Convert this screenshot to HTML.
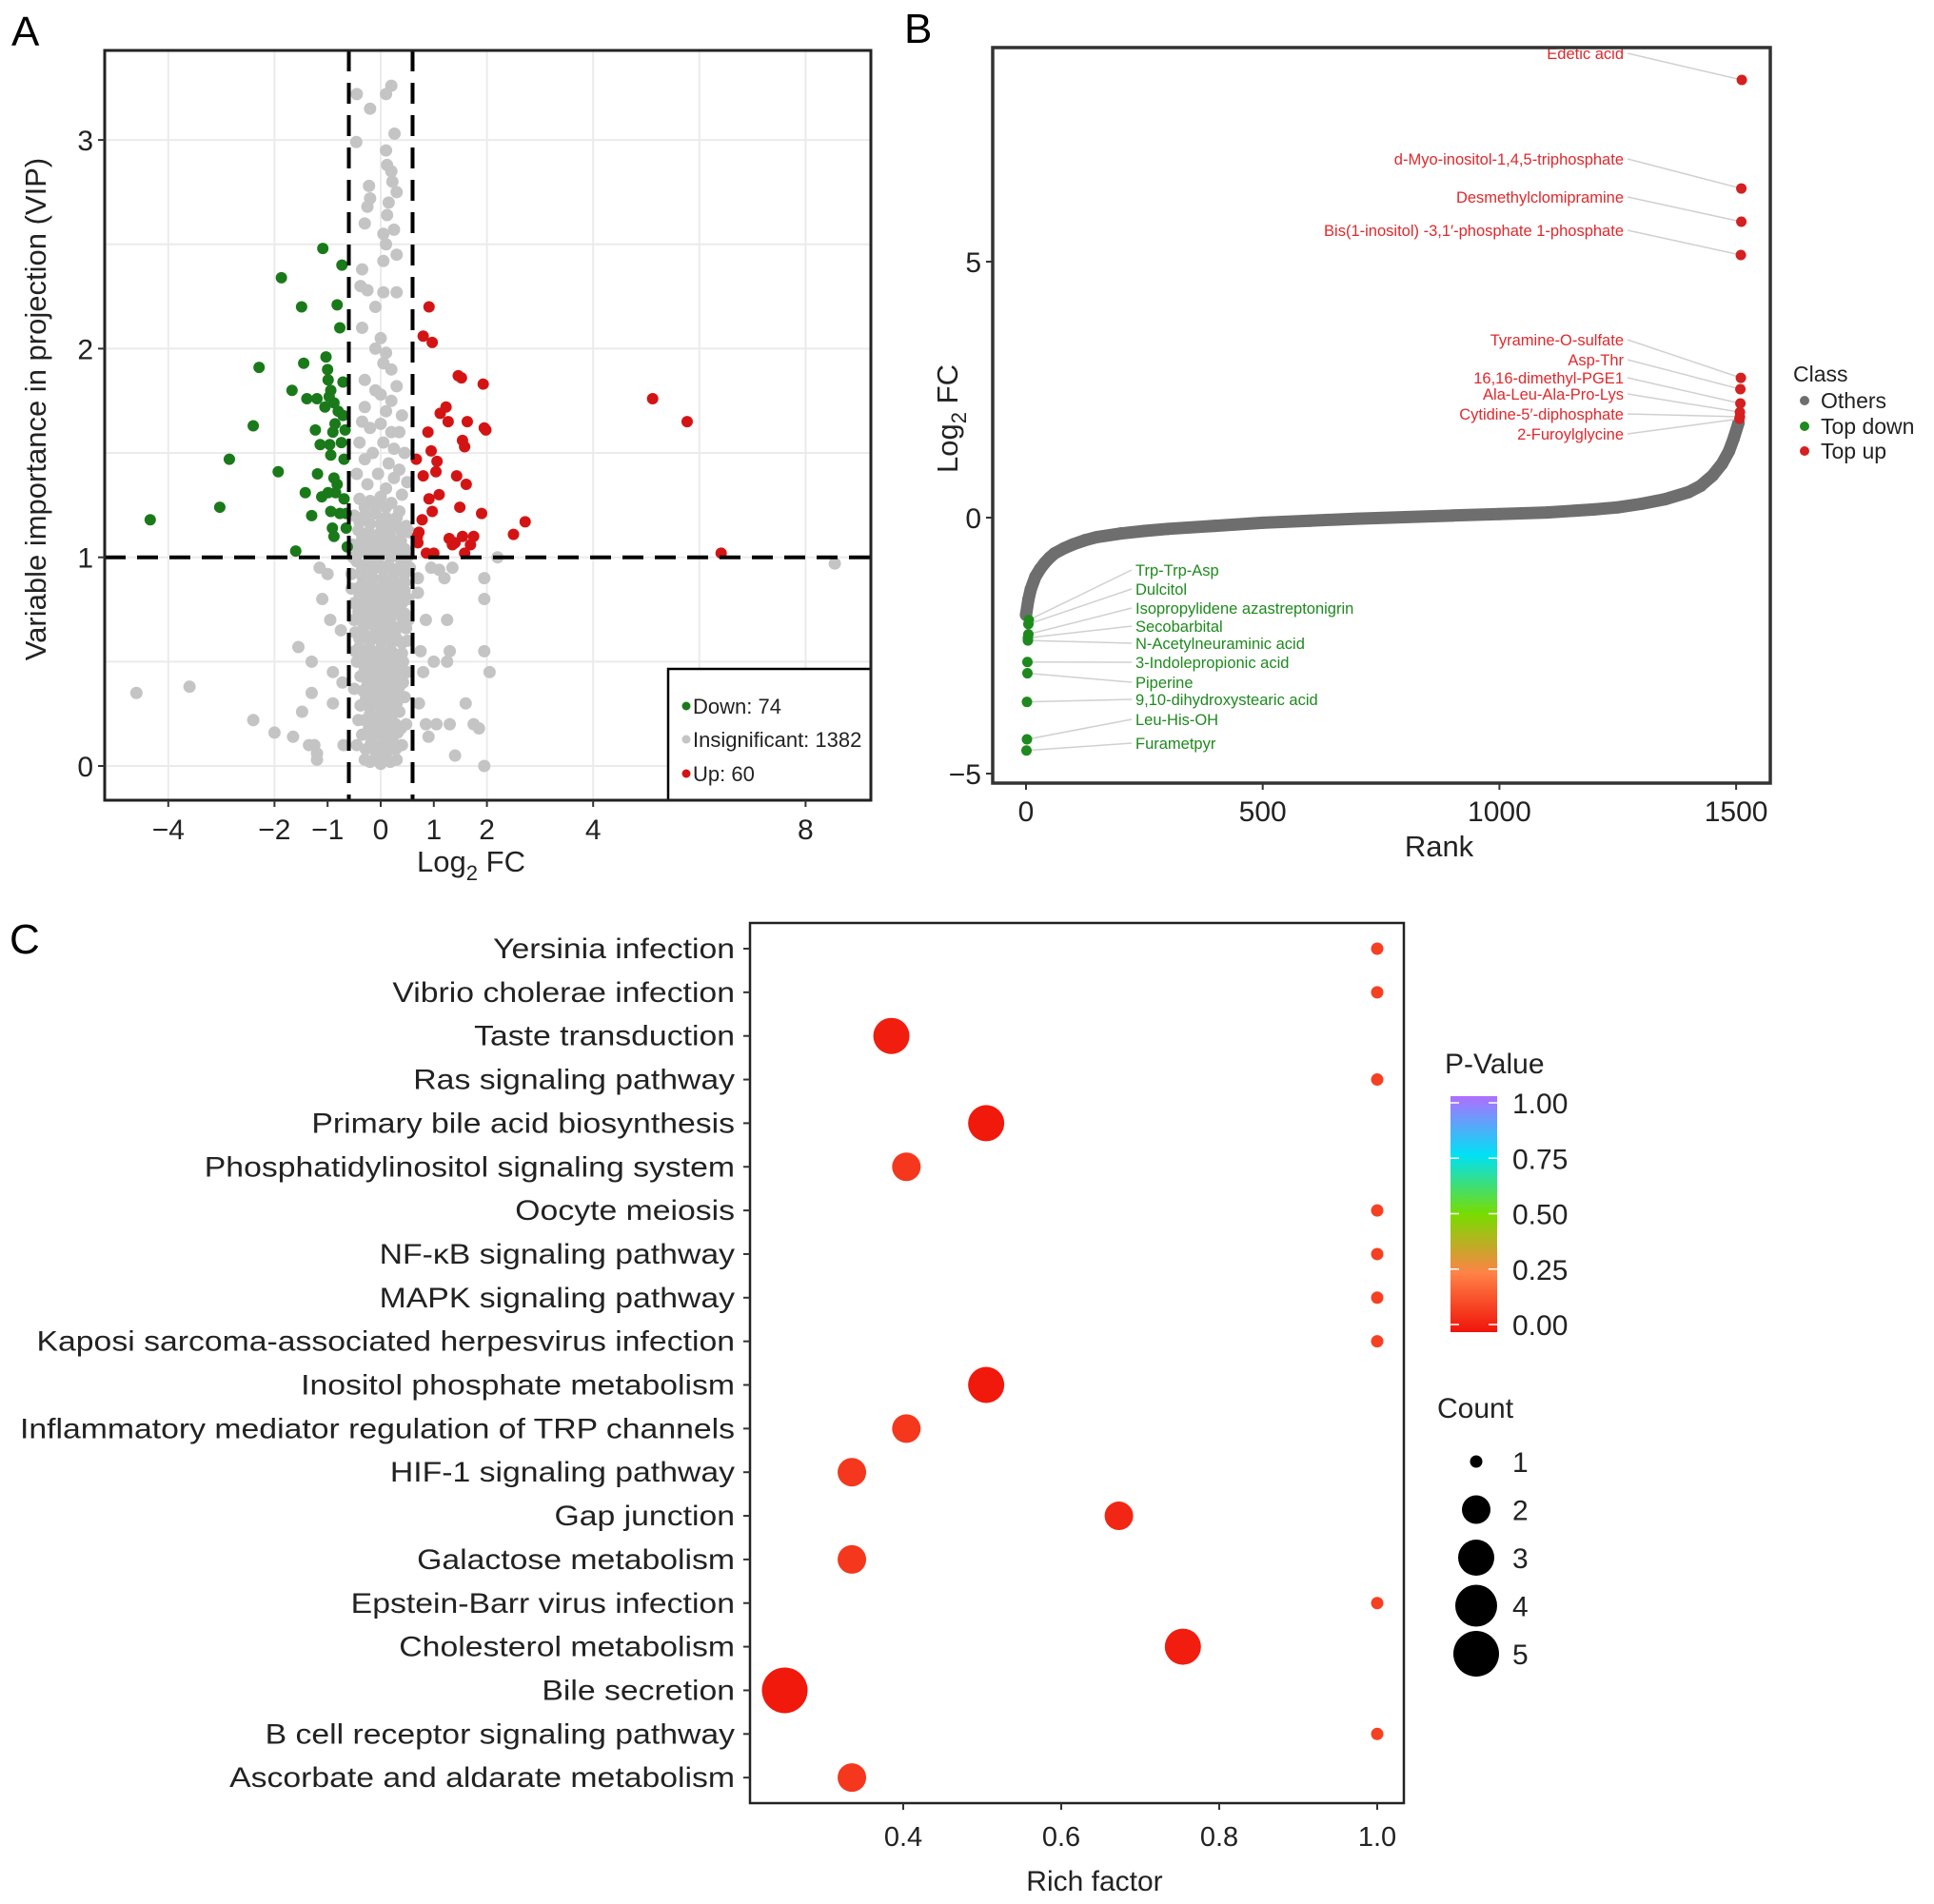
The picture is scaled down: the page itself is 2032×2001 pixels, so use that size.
<!DOCTYPE html>
<html><head><meta charset="utf-8">
<style>
html,body{margin:0;padding:0;background:#fff;}
svg{display:block;font-family:"Liberation Sans",Arial,sans-serif;}
</style></head>
<body>
<svg id="fig" width="2032" height="2001" viewBox="0 0 2032 2001" xmlns="http://www.w3.org/2000/svg">
  <rect width="2032" height="2001" fill="#fff"/>
  <text x="12" y="48" font-size="44">A</text>
  <text x="950" y="45" font-size="44">B</text>
  <text x="10" y="1002" font-size="44">C</text>
  <g id="pa"></g>
  <g id="pb"></g>
  <g id="pc"></g>
</svg>
<script>
// ---------- Panel A data ----------
const aXTicks = [-4,-2,-1,0,1,2,4,8];
const aYTicks = [0,1,2,3];
const aDownPoints = [[-4.34,1.18],[-3.03,1.24],[-2.85,1.47],[-2.4,1.63],[-2.29,1.91],[-1.93,1.41],[-1.87,2.34],[-1.67,1.8],[-1.6,1.03],[-1.49,2.2],[-1.45,1.93],[-1.39,1.76],[-1.42,1.31],[-1.3,1.2],[-1.23,1.61],[-1.2,1.76],[-1.19,1.4],[-1.14,1.54],[-1.09,2.48],[-1.03,1.96],[-1.0,1.9],[-0.99,1.85],[-0.96,1.54],[-0.99,1.31],[-0.94,1.22],[-0.91,1.14],[-0.94,1.8],[-0.88,1.74],[-0.86,1.64],[-0.9,1.6],[-0.88,1.38],[-0.85,1.31],[-0.88,1.1],[-0.82,2.21],[-0.77,2.1],[-0.73,2.4],[-0.71,1.84],[-0.71,1.68],[-0.67,1.61],[-0.69,1.47],[-0.69,1.28],[-0.65,1.21],[-0.65,1.14],[-0.63,1.05],[-0.77,1.21],[-0.82,1.35],[-1.11,1.29],[-0.94,1.49],[-1.05,1.72],[-0.97,1.77],[-0.8,1.7],[-0.74,1.55]];
const aUpPoints = [[0.69,1.1],[0.7,1.07],[0.8,2.06],[0.91,2.2],[0.97,2.03],[0.67,1.47],[0.8,1.39],[0.89,1.6],[0.91,1.28],[0.95,1.51],[0.97,1.22],[0.78,1.18],[0.86,1.02],[1.0,1.02],[1.04,1.41],[1.06,1.46],[1.12,1.69],[1.23,1.72],[1.27,1.65],[1.29,1.09],[1.35,1.06],[1.4,1.07],[1.43,1.39],[1.49,1.24],[1.46,1.87],[1.52,1.86],[1.54,1.56],[1.58,1.53],[1.54,1.1],[1.61,1.35],[1.63,1.65],[1.69,1.06],[1.58,1.02],[1.93,1.83],[1.9,1.21],[1.95,1.62],[1.98,1.61],[2.5,1.11],[2.72,1.17],[5.12,1.76],[5.77,1.65],[6.41,1.02],[1.75,1.1],[0.72,1.12],[1.1,1.3]];
const aGrayPoints = [[-0.45,3.22],[-0.2,3.15],[0.2,3.26],[0.1,3.22],[0.26,3.03],[-0.46,2.99],[0.1,2.95],[0.12,2.88],[0.2,2.85],[0.22,2.8],[0.3,2.75],[-0.22,2.78],[-0.2,2.72],[-0.25,2.68],[0.15,2.7],[0.12,2.64],[-0.3,2.6],[0.05,2.55],[0.25,2.57],[0.1,2.5],[0.3,2.45],[0.05,2.42],[-0.35,2.38],[-0.38,2.3],[-0.25,2.28],[0.05,2.27],[0.3,2.27],[-0.1,2.2],[-0.35,2.1],[0.0,2.05],[-0.1,2.0],[0.1,1.98],[0.05,1.93],[0.2,1.9],[-0.3,1.85],[0.3,1.82],[-0.1,1.8],[0.0,1.78],[0.2,1.75],[-0.3,1.72],[0.1,1.7],[0.4,1.68],[-0.35,1.65],[-0.2,1.62],[0.0,1.64],[0.2,1.6],[0.35,1.6],[-0.4,1.55],[0.05,1.55],[0.25,1.52],[-0.15,1.5],[0.45,1.5],[-0.3,1.47],[0.15,1.45],[0.35,1.42],[-0.45,1.4],[-0.05,1.4],[0.25,1.38],[0.5,1.36],[-0.25,1.35],[0.1,1.33],[0.4,1.3],
[-0.4,1.28],[-0.2,1.27],[0.0,1.29],[0.2,1.26],[0.35,1.22],[-0.5,1.2],[-0.3,1.2],[-0.1,1.21],[0.1,1.19],[0.28,1.16],[0.48,1.15],[-0.42,1.13],[-0.22,1.12],[0.0,1.12],[0.18,1.1],[0.38,1.08],[-0.52,1.06],[-0.32,1.05],[-0.12,1.05],[0.08,1.04],[0.28,1.02],[0.5,1.0],[-0.45,0.98],[-0.25,0.97],[-0.05,0.98],[0.15,0.96],[0.35,0.95],[-0.55,0.92],[-0.35,0.91],[-0.15,0.9],[0.05,0.9],[0.25,0.89],[0.45,0.88],[-0.45,0.85],[-0.25,0.84],[-0.05,0.84],[0.15,0.83],[0.35,0.82],[0.52,0.8],[-0.5,0.78],[-0.32,0.77],[-0.12,0.77],[0.08,0.76],[0.28,0.75],[0.45,0.73],[-0.42,0.71],[-0.22,0.7],[-0.02,0.7],[0.18,0.69],[0.38,0.67],[-0.48,0.64],[-0.3,0.63],[-0.1,0.63],[0.1,0.62],[0.3,0.61],[0.5,0.6],[-0.4,0.57],[-0.2,0.56],[0.0,0.56],[0.2,0.55],[0.4,0.54],[-0.45,0.5],[-0.27,0.49],[-0.07,0.49],[0.13,0.48],[0.33,0.47],[-0.38,0.43],[-0.18,0.42],[0.02,0.42],[0.22,0.41],[0.42,0.4],[-0.33,0.36],[-0.13,0.35],[0.07,0.35],[0.27,0.34],[-0.38,0.29],[-0.2,0.28],[0.0,0.28],[0.2,0.27],[0.35,0.26],[-0.3,0.22],[-0.1,0.21],[0.1,0.21],[0.28,0.2],[-0.35,0.15],[-0.15,0.14],[0.05,0.14],[0.22,0.13],[-0.28,0.08],[-0.08,0.07],[0.12,0.07],[0.28,0.08],[-0.2,0.02],[0.0,0.01],[0.18,0.02],[-0.3,0.45],[0.45,0.33],[-0.5,0.37],[0.48,0.2],[-0.45,0.1],[0.4,0.1],[-0.52,1.0],[0.55,1.12],
[-0.3,1.24],[-0.1,1.25],[0.1,1.24],[0.3,1.19],[-0.4,1.17],[-0.2,1.16],[0.0,1.16],[0.2,1.14],[0.4,1.12],[-0.35,1.09],[-0.15,1.08],[0.05,1.08],[0.25,1.06],[0.45,1.04],[-0.42,1.02],[-0.22,1.01],[-0.02,1.01],[0.18,1.0],[0.38,0.99],[-0.35,0.94],[-0.15,0.94],[0.05,0.94],[0.25,0.93],[0.45,0.92],[-0.35,0.87],[-0.15,0.87],[0.05,0.86],[0.25,0.86],[0.45,0.84],[-0.4,0.81],[-0.2,0.8],[0.0,0.8],[0.2,0.79],[0.4,0.78],[-0.42,0.74],[-0.22,0.74],[-0.02,0.73],[0.18,0.73],[0.38,0.72],[-0.32,0.67],[-0.12,0.67],[0.08,0.66],[0.28,0.65],[0.48,0.66],[-0.4,0.61],[-0.2,0.6],[0.0,0.6],[0.2,0.59],[0.4,0.59],[-0.35,0.53],[-0.15,0.53],[0.05,0.52],[0.25,0.51],[0.42,0.5],[-0.3,0.47],[-0.1,0.46],[0.1,0.45],[0.3,0.44],[-0.25,0.39],[-0.05,0.39],[0.15,0.38],[0.35,0.38],[-0.28,0.32],[-0.08,0.32],[0.12,0.31],[0.3,0.3],[-0.2,0.25],[0.0,0.24],[0.2,0.24],[-0.22,0.18],[-0.02,0.18],[0.16,0.17],[0.32,0.16],[-0.18,0.11],[0.02,0.1],[0.2,0.1],[-0.1,0.04],[0.1,0.04],[0.3,0.03],[-0.3,0.03],[-0.5,0.7],[-0.55,0.85],[0.55,0.95],[0.52,0.7],[-0.48,0.55],[0.5,0.45],[-0.42,0.22],[0.38,0.18],
[-4.6,0.35],[-3.6,0.38],[-2.4,0.22],[-2.0,0.16],[-1.65,0.14],[-1.55,0.57],[-1.48,0.26],[-1.3,0.35],[-1.25,0.1],[-1.2,0.06],[-1.2,0.03],[-1.35,0.1],[-0.9,0.45],[-1.0,0.92],[-1.1,0.8],[-0.75,0.65],[-0.72,0.4],[-0.7,0.1],[-0.9,0.3],[0.7,0.9],[0.7,0.83],[0.75,0.55],[0.8,0.45],[0.85,0.2],[0.9,0.14],[1.0,0.5],[1.25,0.5],[1.3,0.2],[1.3,0.55],[1.25,0.7],[1.2,0.9],[1.35,0.95],[1.4,0.05],[1.75,0.2],[1.85,0.18],[1.95,0.0],[1.95,0.55],[2.05,0.45],[1.95,0.9],[1.95,0.8],[2.2,1.0],[8.55,0.97],[1.1,0.94],[0.95,0.95],[0.85,0.7],[1.6,0.3],[-1.3,0.5],[-0.95,0.7],[-1.15,0.95],[1.05,0.2],[0.72,0.3]];

// ---------- Panel B data ----------
const bXTicks = [0,500,1000,1500];
const bYTicks = [-5,0,5];
const bCurveRanks = [0,5,10,20,30,40,50,60,80,100,125,150,200,250,300,400,500,600,700,800,900,1000,1100,1200,1250,1300,1350,1400,1425,1450,1470,1485,1495,1505];
const bCurveValues = [-1.9,-1.6,-1.4,-1.15,-1.0,-0.88,-0.78,-0.7,-0.6,-0.52,-0.44,-0.38,-0.31,-0.26,-0.22,-0.16,-0.1,-0.06,-0.02,0.01,0.04,0.07,0.1,0.16,0.2,0.27,0.36,0.5,0.62,0.82,1.05,1.3,1.55,1.85];
const bUpNames = ["Edetic acid","d-Myo-inositol-1,4,5-triphosphate","Desmethylclomipramine","Bis(1-inositol) -3,1\u2032-phosphate 1-phosphate","Tyramine-O-sulfate","Asp-Thr","16,16-dimethyl-PGE1","Ala-Leu-Ala-Pro-Lys","Cytidine-5\u2032-diphosphate","2-Furoylglycine"];
const bUpValues = [8.55,6.43,5.78,5.13,2.73,2.51,2.23,2.06,1.97,1.93];
const bUpRanks = [1512,1511,1511,1510,1510,1509,1509,1508,1508,1507];
const bUpLabelY = [62,173,213,248,363,384,403,420,441,462];
const bDownNames = ["Trp-Trp-Asp","Dulcitol","Isopropylidene azastreptonigrin","Secobarbital","N-Acetylneuraminic acid","3-Indolepropionic acid","Piperine","9,10-dihydroxystearic acid","Leu-His-OH","Furametpyr"];
const bDownValues = [-2.0,-2.08,-2.28,-2.35,-2.4,-2.82,-3.04,-3.6,-4.33,-4.55];
const bDownRanks = [6,5,5,4,4,3,3,2,2,1];
const bDownLabelY = [605,625,645,664,682,702,723,741,762,787];

// ---------- Panel C data ----------
const cPathways = ["Yersinia infection","Vibrio cholerae infection","Taste transduction","Ras signaling pathway","Primary bile acid biosynthesis","Phosphatidylinositol signaling system","Oocyte meiosis","NF-\u03baB signaling pathway","MAPK signaling pathway","Kaposi sarcoma-associated herpesvirus infection","Inositol phosphate metabolism","Inflammatory mediator regulation of TRP channels","HIF-1 signaling pathway","Gap junction","Galactose metabolism","Epstein-Barr virus infection","Cholesterol metabolism","Bile secretion","B cell receptor signaling pathway","Ascorbate and aldarate metabolism"];
const cRichFactor = [1.0,1.0,0.385,1.0,0.505,0.404,1.0,1.0,1.0,1.0,0.505,0.404,0.335,0.673,0.335,1.0,0.754,0.25,1.0,0.335];
const cCount = [1,1,3,1,3,2,1,1,1,1,3,2,2,2,2,1,3,5,1,2];
const cPValue = [0.1,0.1,0.02,0.1,0.01,0.08,0.1,0.1,0.1,0.1,0.01,0.08,0.08,0.04,0.08,0.1,0.02,0.01,0.1,0.08];
const cXTicks = [0.4,0.6,0.8,1.0];
const cColorTicks = [0.00,0.25,0.50,0.75,1.00];
const cCountLegend = [1,2,3,4,5];

const NS = "http://www.w3.org/2000/svg";
function mk(parent, tag, attrs, text){
  const e = document.createElementNS(NS, tag);
  for (const k in attrs) e.setAttribute(k, attrs[k]);
  if (text !== undefined) e.textContent = text;
  parent.appendChild(e);
  return e;
}

// ===== Panel A =====
(function(){
  const g = document.getElementById('pa');
  const L=110,R=915,T=53,B=841;
  const xA = v => 400 + v*55.8;
  const yA = v => 805 - v*219.3;
  const bg = mk(g,'rect',{x:L,y:T,width:R-L,height:B-T,fill:'#fff'});
  
  
  [-4,-2,0,2,4,6,8].forEach(v=>{
    const l = mk(g,'line',{x1:xA(v),x2:xA(v),y1:T,y2:B,stroke:'#ebebeb','stroke-width':2});
    
    
  });
  [0,0.5,1,1.5,2,2.5,3].forEach(v=>{
    const l = mk(g,'line',{x1:L,x2:R,y1:yA(v),y2:yA(v),stroke:'#ebebeb','stroke-width':2});
    
    
  });
  aGrayPoints.forEach(p=>{
    const c = mk(g,'circle',{cx:xA(p[0]),cy:yA(p[1]),r:6.5,fill:'#c4c4c4'});
    
    
  });
  aDownPoints.forEach(p=>{
    const c = mk(g,'circle',{cx:xA(p[0]),cy:yA(p[1]),r:6,fill:'#1a7a1a'});
    
    
  });
  aUpPoints.forEach(p=>{
    const c = mk(g,'circle',{cx:xA(p[0]),cy:yA(p[1]),r:6,fill:'#d41414'});
    
    
  });
  [[xA(-0.6),T,xA(-0.6),B],[xA(0.6),T,xA(0.6),B],[L,yA(1),R,yA(1)]].forEach(s=>{
    const l = mk(g,'line',{x1:s[0],y1:s[1],x2:s[2],y2:s[3],stroke:'#000','stroke-width':4,'stroke-dasharray':'22 12'});
    
    
  });
  const lg = mk(g,'g',{});
  
  
  mk(lg,'rect',{x:702,y:703,width:213,height:138,fill:'#fff',stroke:'#000','stroke-width':2.5});
  [['Down: 74','#1a7a1a',742],['Insignificant: 1382','#c4c4c4',777],['Up: 60','#d41414',813]].forEach(e=>{
    mk(lg,'circle',{cx:721,cy:e[2],r:4.5,fill:e[1]});
    const t = mk(lg,'text',{x:728,y:e[2]+8,'font-size':22,fill:'#222'},e[0]);
    
    
  });
  mk(g,'rect',{x:L,y:T,width:R-L,height:B-T,fill:'none',stroke:'#222','stroke-width':3});
  aXTicks.forEach(v=>{
    mk(g,'line',{x1:xA(v),x2:xA(v),y1:B,y2:B+7,stroke:'#333','stroke-width':2});
    const t = mk(g,'text',{x:xA(v),y:882,'font-size':30,'text-anchor':'middle',fill:'#222'},v<0?'\u2212'+(-v):String(v));
    
    
  });
  aYTicks.forEach(v=>{
    mk(g,'line',{x1:L-7,x2:L,y1:yA(v),y2:yA(v),stroke:'#333','stroke-width':2});
    const t = mk(g,'text',{x:L-12,y:yA(v)+11,'font-size':30,'text-anchor':'end',fill:'#222'},String(v));
    
    
  });
  const xt = mk(g,'text',{x:495,y:916,'font-size':31,'text-anchor':'middle',fill:'#222'});
  
  
  mk(xt,'tspan',{},'Log');
  mk(xt,'tspan',{'font-size':22,dy:9},'2');
  mk(xt,'tspan',{dy:-9},' FC');
  const yt = mk(g,'text',{x:0,y:0,'font-size':31,'text-anchor':'middle',fill:'#222',transform:'translate(48,430) rotate(-90)'},'Variable importance in projection (VIP)');
  
  
})();

// ===== Panel B =====
(function(){
  const g = document.getElementById('pb');
  const L=1043,R=1860,T=50,B=823;
  const xB = r => 1078 + r*(248.7/500);
  const yB = v => 544 - v*53.8;
  let d='';
  bCurveRanks.forEach((r,i)=>{ d += (i?'L':'M')+xB(r).toFixed(1)+','+yB(bCurveValues[i]).toFixed(1); });
  const curve = mk(g,'path',{d:d,fill:'none',stroke:'#6e6e6e','stroke-width':13,'stroke-linecap':'round','stroke-linejoin':'round'});
  
  
  bCurveRanks.forEach((r,i)=>{
    const c = mk(g,'circle',{cx:xB(r),cy:yB(bCurveValues[i]),r:6.5,fill:'#6e6e6e'});
    
    
  });
  bUpNames.forEach((n,i)=>{
    const px=xB(bUpRanks[i]), py=yB(bUpValues[i]);
    mk(g,'line',{x1:1710,y1:bUpLabelY[i]-6,x2:px,y2:py,stroke:'#d0d0d0','stroke-width':1.5});
    const c = mk(g,'circle',{cx:px,cy:py,r:5.5,fill:'#d42020'});
    
    
    const t = mk(g,'text',{x:1706,y:bUpLabelY[i],'font-size':16.5,'text-anchor':'end',fill:'#e0282c'},n);
    
    
  });
  bDownNames.forEach((n,i)=>{
    const px=xB(bDownRanks[i]), py=yB(bDownValues[i]);
    mk(g,'line',{x1:px,y1:py,x2:1189,y2:bDownLabelY[i]-6,stroke:'#d0d0d0','stroke-width':1.5});
    const c = mk(g,'circle',{cx:px,cy:py,r:5.5,fill:'#1e8a1e'});
    
    
    const t = mk(g,'text',{x:1193,y:bDownLabelY[i],'font-size':16.5,fill:'#1e8a1e'},n);
    
    
  });
  mk(g,'rect',{x:L,y:T,width:R-L,height:B-T,fill:'none',stroke:'#333','stroke-width':3.5});
  bXTicks.forEach(v=>{
    mk(g,'line',{x1:xB(v),x2:xB(v),y1:B,y2:B+7,stroke:'#333','stroke-width':2});
    const t = mk(g,'text',{x:xB(v),y:863,'font-size':30,'text-anchor':'middle',fill:'#222'},String(v));
    
    
  });
  bYTicks.forEach(v=>{
    mk(g,'line',{x1:L-7,x2:L,y1:yB(v),y2:yB(v),stroke:'#333','stroke-width':2});
    const t = mk(g,'text',{x:L-12,y:yB(v)+11,'font-size':30,'text-anchor':'end',fill:'#222'},v<0?'\u2212'+(-v):String(v));
    
    
  });
  const xt = mk(g,'text',{x:1512,y:900,'font-size':31,'text-anchor':'middle',fill:'#222'},'Rank');
  
  
  const yt = mk(g,'text',{x:0,y:0,'font-size':31,'text-anchor':'middle',fill:'#222',transform:'translate(1006,440) rotate(-90)'});
  
  
  mk(yt,'tspan',{},'Log');
  mk(yt,'tspan',{'font-size':22,dy:9},'2');
  mk(yt,'tspan',{dy:-9},' FC');
  const lg = mk(g,'g',{});
  
  
  mk(lg,'text',{x:1884,y:401,'font-size':23,fill:'#222'},'Class');
  [['Others','#6e6e6e',421],['Top down','#1e8a1e',448],['Top up','#d42020',474]].forEach(e=>{
    mk(lg,'circle',{cx:1896,cy:e[2],r:5,fill:e[1]});
    const t = mk(lg,'text',{x:1913,y:e[2]+8,'font-size':23,fill:'#222'},e[0]);
    
    
  });
})();

// ===== Panel C =====
(function(){
  const g = document.getElementById('pc');
  const L=788,R=1475,T=970,B=1895;
  const xC = v => 617 + v*830;
  const yC = i => 997 + i*45.85;
  const rC = n => [0,6.5,15,19,22,24][n];
  const stops = [[0,[240,20,10]],[0.25,[255,130,70]],[0.5,[120,220,0]],[0.75,[0,225,245]],[1,[175,110,255]]];
  function col(p){
    for(let i=0;i<stops.length-1;i++){
      const a=stops[i],b=stops[i+1];
      if(p<=b[0]){const t=(p-a[0])/(b[0]-a[0]);return 'rgb('+a[1].map((c,k)=>Math.round(c+(b[1][k]-c)*t)).join(',')+')';}
    }
    return 'rgb(175,110,255)';
  }
  mk(g,'rect',{x:L,y:T,width:R-L,height:B-T,fill:'none',stroke:'#222','stroke-width':2.5});
  cPathways.forEach((n,i)=>{
    mk(g,'line',{x1:L-7,x2:L,y1:yC(i),y2:yC(i),stroke:'#333','stroke-width':2});
    const t = mk(g,'text',{x:772,y:yC(i)+10,'font-size':30,'text-anchor':'end',fill:'#222'},n);
    
    
    const w = t.getComputedTextLength();
    if (w > 0) { t.setAttribute('textLength', (w*1.125).toFixed(1)); t.setAttribute('lengthAdjust','spacingAndGlyphs'); }
    const c = mk(g,'circle',{cx:xC(cRichFactor[i]),cy:yC(i),r:rC(cCount[i]),fill:col(cPValue[i])});
    
    
  });
  cXTicks.forEach(v=>{
    mk(g,'line',{x1:xC(v),x2:xC(v),y1:B,y2:B+7,stroke:'#333','stroke-width':2});
    const t = mk(g,'text',{x:xC(v),y:1940,'font-size':29,'text-anchor':'middle',fill:'#222'},v.toFixed(1));
    
    
  });
  const xt = mk(g,'text',{x:1150,y:1987,'font-size':30,'text-anchor':'middle',fill:'#222'},'Rich factor');
  
  
  const defs = mk(g,'defs',{});
  const grad = mk(defs,'linearGradient',{id:'pgrad',x1:0,y1:1,x2:0,y2:0});
  stops.forEach(s=>mk(grad,'stop',{offset:s[0],'stop-color':'rgb('+s[1].join(',')+')'}));
  const cb = mk(g,'g',{});
  
  
  mk(cb,'text',{x:1518,y:1128,'font-size':30,fill:'#222'},'P-Value');
  const cbTop=1152, cbBot=1400;
  mk(cb,'rect',{x:1524,y:cbTop,width:49,height:cbBot-cbTop,fill:'url(#pgrad)'});
  const yCb = v => 1392 - v*(1392-1159);
  cColorTicks.forEach(v=>{
    mk(cb,'line',{x1:1524,x2:1533,y1:yCb(v),y2:yCb(v),stroke:'#fff','stroke-width':1.5});
    mk(cb,'line',{x1:1564,x2:1573,y1:yCb(v),y2:yCb(v),stroke:'#fff','stroke-width':1.5});
    const t = mk(cb,'text',{x:1589,y:yCb(v)+11,'font-size':30,fill:'#222'},v.toFixed(2));
    
    
  });
  const cl = mk(g,'g',{});
  
  
  mk(cl,'text',{x:1510,y:1490,'font-size':30,fill:'#222'},'Count');
  cCountLegend.forEach((n,i)=>{
    const yy = 1536 + i*50.5;
    mk(cl,'circle',{cx:1551,cy:yy,r:rC(n),fill:'#000'});
    const t = mk(cl,'text',{x:1589,y:yy+11,'font-size':30,fill:'#222'},String(n));
    
    
  });
})();
</script>
</body></html>
